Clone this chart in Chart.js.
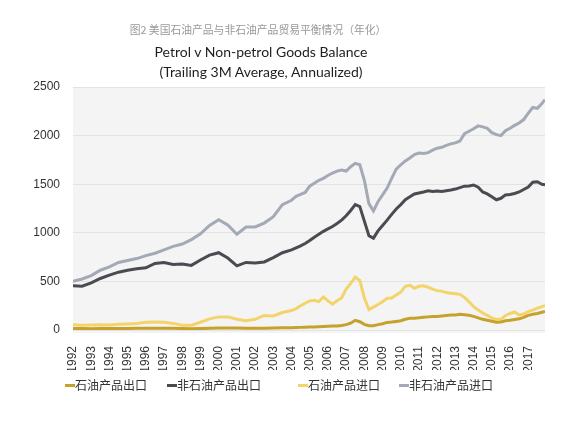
<!DOCTYPE html>
<html>
<head>
<meta charset="utf-8">
<script src="https://cdn.jsdelivr.net/npm/chart.js@4.4.1/dist/chart.umd.min.js"></script>
<style>
    body { margin: 0; background: #fff; }
    .wrap { position: relative; width: 580px; height: 427px; }
    .caption { position: absolute; left: 0; width: 516px; top: 21px; text-align: center; font: 10.8px "Noto Sans CJK SC", sans-serif; color: #999; }
    .title { position: absolute; left: 0; width: 522px; top: 42px; text-align: center; font: 14px/20px Lato, sans-serif; color: #1e1e1e; }
    .legend { position: absolute; top: 376px; left: 0; height: 18px; font: 12px "Noto Sans CJK SC", sans-serif; color: #333; }
    .legend span { position: absolute; white-space: nowrap; line-height: 18px; }
    .legend i { display: inline-block; width: 10px; height: 3px; vertical-align: middle; margin-top: -2px; }
    canvas { position: absolute; left: 0; top: 0; }
</style>
</head>
<body>
<div class="wrap">
    <canvas id="chart" width="580" height="427"></canvas>
    <div class="caption">图2 美国石油产品与非石油产品贸易平衡情况（年化）</div>
    <div class="title">Petrol v Non-petrol Goods Balance<br>(Trailing 3M Average, Annualized)</div>
    <div class="legend" id="legend"></div>
</div>
<script>
// Время (доли года): до 2004 - по полугодиям, дальше - по кварталам
let dates = [1992.0, 1992.5, 1993.0, 1993.5, 1994.0, 1994.5, 1995.0, 1995.5, 1996.0, 1996.5,
    1997.0, 1997.5, 1998.0, 1998.5, 1999.0, 1999.5, 2000.0, 2000.5, 2001.0, 2001.5,
    2002.0, 2002.5, 2003.0, 2003.5,
    2004.0, 2004.25, 2004.5, 2004.75, 2005.0, 2005.25, 2005.5, 2005.75,
    2006.0, 2006.25, 2006.5, 2006.75, 2007.0, 2007.25, 2007.5, 2007.75,
    2008.0, 2008.25, 2008.5, 2008.75, 2009.0, 2009.25, 2009.5, 2009.75,
    2010.0, 2010.25, 2010.5, 2010.75, 2011.0, 2011.25, 2011.5, 2011.75,
    2012.0, 2012.25, 2012.5, 2012.75, 2013.0, 2013.25, 2013.5, 2013.75,
    2014.0, 2014.25, 2014.5, 2014.75, 2015.0, 2015.25, 2015.5, 2015.75,
    2016.0, 2016.25, 2016.5, 2016.75, 2017.0, 2017.25, 2017.5, 2017.75, 2017.92];

let petrolExports = [15, 15, 14, 15, 15, 16, 16, 17, 18, 18,
    18, 17, 15, 14, 15, 18, 20, 21, 20, 19,
    18, 19, 20, 22,
    24, 25, 27, 28, 30, 32, 34, 36,
    38, 40, 42, 46, 55, 70, 100, 85,
    58, 45, 45, 55, 65, 78, 82, 88,
    95, 110, 120, 122, 125, 132, 135, 138,
    140, 145, 150, 155, 155, 162, 158, 152,
    140, 125, 110, 100, 90, 80, 82, 95,
    100, 108, 115, 130, 150, 162, 170, 182, 190];

let nonPetrolExports = [455, 450, 485, 530, 565, 595, 615, 630, 640, 685,
    695, 675, 680, 665, 720, 770, 795, 740, 660, 695,
    690, 700, 745, 795,
    825, 845, 865, 890, 920, 955, 985, 1015,
    1040, 1065, 1095, 1130, 1175, 1230, 1290, 1270,
    1120, 970, 945, 1020, 1075, 1130, 1190, 1245,
    1290, 1340, 1370, 1400, 1410, 1420, 1432, 1425,
    1430, 1425, 1432, 1440, 1450, 1465, 1480, 1482,
    1492, 1470, 1420, 1400, 1370, 1340, 1355, 1390,
    1395, 1405, 1420, 1445, 1470, 1520, 1525, 1500, 1495];

let petrolImports = [55, 50, 52, 55, 52, 58, 62, 68, 80, 82,
    80, 68, 50, 50, 80, 115, 135, 135, 110, 95,
    110, 150, 145, 180,
    200, 220, 250, 275, 300, 305, 292, 340,
    300, 265, 300, 330, 420, 480, 545, 510,
    330, 210, 235, 262, 290, 326, 330, 360,
    390, 450, 460, 430, 450, 455, 440, 420,
    405, 400, 385, 378, 372, 367, 335, 290,
    240, 205, 175, 150, 125, 110, 110, 150,
    170, 185, 155, 165, 190, 205, 225, 240, 250];

let nonPetrolImports = [500, 525, 560, 615, 650, 695, 715, 735, 765, 790,
    825, 860, 885, 930, 990, 1075, 1135, 1080, 985, 1060,
    1060, 1100, 1165, 1290,
    1335, 1375, 1395, 1415, 1480, 1510, 1540, 1560,
    1590, 1615, 1635, 1645, 1635, 1680, 1715, 1700,
    1540, 1300, 1225, 1320, 1390, 1460, 1560, 1655,
    1700, 1740, 1770, 1805, 1820, 1815, 1825, 1850,
    1870, 1880, 1900, 1915, 1925, 1945, 2020, 2045,
    2070, 2100, 2090, 2075, 2030, 2010, 2000, 2050,
    2075, 2105, 2130, 2165, 2230, 2290, 2280, 2330, 2370];

let seriesNames = ['石油产品出口', '非石油产品出口', '石油产品进口', '非石油产品进口'];
let yTicks = [0, 500, 1000, 1500, 2000, 2500];

let colors = ['#c6a12b', '#4a4b51', '#f3d46b', '#a3a9b5'];

Core();

function Core()
{
    InitChartJs();
    InitLegend();
}

function ToPoints(values)
{
    return values.map((v, i) => ({ x: dates[i], y: v }));
}

function InitChartJs()
{
    let series = [petrolExports, nonPetrolExports, petrolImports, nonPetrolImports];

    // Серый фон области графика
    let plotBg = {
        id: 'plotBg',
        beforeDraw(chart) {
            let a = chart.chartArea;
            let ctx = chart.ctx;
            ctx.save();
            ctx.fillStyle = '#f4f4f5';
            ctx.fillRect(a.left, a.top, a.right - a.left, a.bottom - a.top + 3);
            ctx.restore();
        }
    };

    new Chart(document.getElementById('chart'), {
        type: 'line',
        data: {
            datasets: series.map((s, i) => ({
                label: seriesNames[i],
                data: ToPoints(s),
                borderColor: colors[i],
                backgroundColor: colors[i],
                borderWidth: 3,
                pointRadius: 0,
                tension: 0
            }))
        },
        options: {
            responsive: false,
            animation: false,
            layout: { padding: { left: 33, right: 35, top: 87, bottom: 57 } },
            plugins: { legend: { display: false }, title: { display: false }, tooltip: { enabled: false } },
            scales: {
                x: {
                    type: 'linear',
                    min: dates[0],
                    max: dates[dates.length - 1],
                    grid: { display: false },
                    border: { display: false },
                    afterFit: scale => { scale.height = 40; },
                    ticks: {
                        stepSize: 1,
                        includeBounds: false,
                        autoSkip: false,
                        minRotation: 90,
                        maxRotation: 90,
                        padding: 8,
                        color: '#333',
                        font: { family: 'Liberation Sans', size: 12 },
                        callback: v => String(v)
                    }
                },
                y: {
                    min: yTicks[0],
                    max: yTicks[yTicks.length - 1],
                    grid: { color: '#e3e3e3', drawTicks: false },
                    border: { display: false },
                    afterFit: scale => { scale.width = 40; },
                    ticks: {
                        stepSize: 500,
                        padding: 13,
                        color: '#333',
                        font: { family: 'Liberation Sans', size: 12 },
                        callback: v => String(v)
                    }
                }
            }
        },
        plugins: [plotBg]
    });
}

function InitLegend()
{
    let lefts = [65, 167, 298, 399];
    let html = '';

    for (let i = 0; i < seriesNames.length; i++)
    {
        html += '<span style="left:' + lefts[i] + 'px"><i style="background:' + colors[i] + '"></i>' + seriesNames[i] + '</span>';
    }

    document.getElementById('legend').innerHTML = html;
}
</script>
</body>
</html>
